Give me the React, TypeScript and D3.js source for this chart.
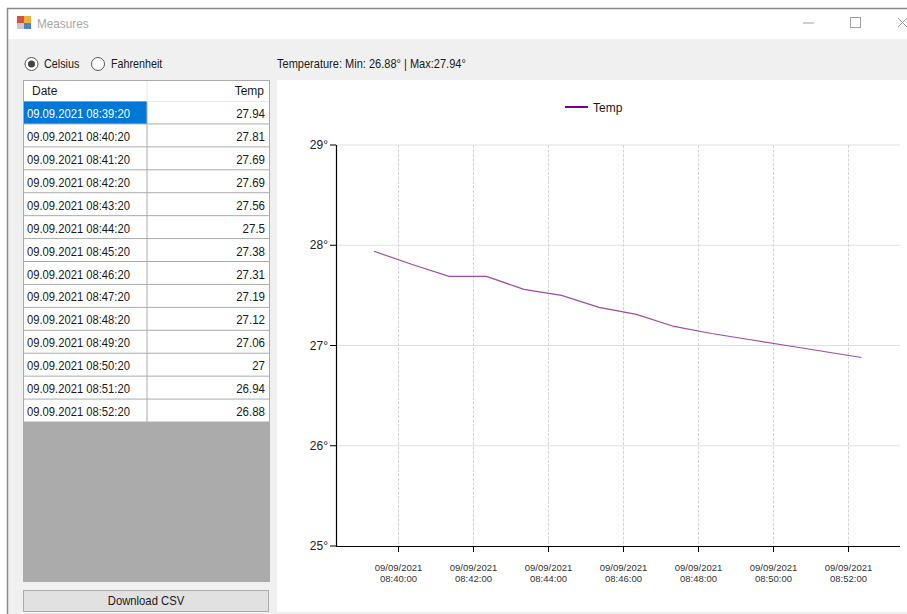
import React from "react";
import * as d3 from "d3";

const timestamps = ["09.09.2021 08:39:20","09.09.2021 08:40:20","09.09.2021 08:41:20","09.09.2021 08:42:20","09.09.2021 08:43:20","09.09.2021 08:44:20","09.09.2021 08:45:20","09.09.2021 08:46:20","09.09.2021 08:47:20","09.09.2021 08:48:20","09.09.2021 08:49:20","09.09.2021 08:50:20","09.09.2021 08:51:20","09.09.2021 08:52:20"];
const temps = [27.94,27.81,27.69,27.69,27.56,27.5,27.38,27.31,27.19,27.12,27.06,27,26.94,26.88];
const tempLabels = ["27.94","27.81","27.69","27.69","27.56","27.5","27.38","27.31","27.19","27.12","27.06","27","26.94","26.88"];
const yTicks = [25,26,27,28,29];
const xTickMinutes = ["08:40:00","08:42:00","08:44:00","08:46:00","08:48:00","08:50:00","08:52:00"];
const FONT = "'Liberation Sans', Arial, sans-serif";
const parseRow = d3.timeParse("%d.%m.%Y %H:%M:%S");
const tickDates = xTickMinutes.map(t => parseRow("09.09.2021 " + t) as Date);
const fmtDate = d3.timeFormat("%m/%d/%Y");
const fmtTime = d3.timeFormat("%H:%M:%S");

const x = d3.scaleTime().domain([tickDates[0], tickDates[6]]).range([399, 849]);
const y = d3.scaleLinear().domain([25, 29]).range([546, 145]);
const rowY = d3.scaleLinear().domain([0, 14]).range([101.5, 422.5]);

type TP = { x: number; y: number; sx?: number; size?: number; fill?: string; anchor?: string; children: React.ReactNode };
function T({ x, y, sx = 1, size = 12, fill = "#1a1a1a", anchor = "start", children }: TP) {
  return (
    <text transform={`translate(${x},${y}) scale(${sx},1)`} fontSize={size} fill={fill} textAnchor={anchor}>
      {children}
    </text>
  );
}

export default function App() {
  const pts = timestamps.map((t, i) => ({ d: parseRow(t) as Date, v: temps[i] }));
  const path = d3.line<{ d: Date; v: number }>().x(p => x(p.d)).y(p => y(p.v))(pts) as string;
  return (
    <svg width={907} height={614} style={{ position: "absolute", left: 0, top: 0, fontFamily: FONT }}>
      <rect x={0} y={0} width={907} height={614} fill="#ffffff" />
      <rect x={7} y={8} width={900} height={606} fill="#ffffff" />
      <rect x={8} y={39} width={899} height={575} fill="#f0f0f0" />
      <line x1={7} x2={907} y1={8.5} y2={8.5} stroke="#8a8a8a" strokeWidth={1.5} />
      <line x1={7.5} x2={7.5} y1={8} y2={614} stroke="#8a8a8a" strokeWidth={1.5} />
      <g>
        <rect x={17} y={16} width={7} height={7} fill="#d8533c" />
        <rect x={24} y={16} width={7} height={7} fill="#e8b53a" />
        <rect x={17} y={23} width={7} height={6} fill="#c9c9c9" />
        <rect x={24} y={23} width={7} height={6} fill="#4f7fd0" />
      </g>
      <T x={37} y={28} sx={0.94} size={12.5} fill="#a8a8a8">Measures</T>
      <line x1={803} x2={814} y1={23} y2={23} stroke="#a0a0a0" />
      <rect x={850.5} y={17.5} width={10} height={10} fill="none" stroke="#a0a0a0" />
      <path d="M898 18L907 27M907 18L898 27" stroke="#a0a0a0" fill="none" />

      <circle cx={31.5} cy={64} r={6.5} fill="#fff" stroke="#555" />
      <circle cx={31.5} cy={64} r={3.5} fill="#444" />
      <T x={44} y={68} sx={0.9}>Celsius</T>
      <circle cx={98} cy={64} r={6.5} fill="#fff" stroke="#555" />
      <T x={111} y={68} sx={0.895}>Fahrenheit</T>
      <T x={277} y={68} sx={0.92}>Temperature: Min: 26.88° | Max:27.94°</T>

      <rect x={23} y={80} width={247} height={502} fill="#ababab" />
      <rect x={24} y={81} width={245} height={20.5} fill="#ffffff" />
      <line x1={147} x2={147} y1={81} y2={101} stroke="#e8e8e8" />
      <T x={32} y={95}>Date</T>
      <T x={264} y={95} anchor="end">Temp</T>
      {timestamps.map((t, i) => {
        const top = rowY(i), bot = rowY(i + 1);
        return (
          <g key={t}>
            <rect x={24} y={top} width={122.5} height={bot - top - 1} fill={i === 0 ? "#0078d7" : "#ffffff"} />
            <rect x={147.5} y={top} width={121.5} height={bot - top - 1} fill="#ffffff" />
            <T x={27} y={top + 16.5} sx={0.936} fill={i === 0 ? "#ffffff" : "#1a1a1a"}>{t}</T>
            <T x={265} y={top + 16.5} sx={0.96} anchor="end">{tempLabels[i]}</T>
          </g>
        );
      })}
      <rect x={23.5} y={590.5} width={245} height={21} fill="#e1e1e1" stroke="#adadad" />
      <T x={146} y={605} sx={0.94} anchor="middle">Download CSV</T>

      <rect x={277} y={80} width={630} height={532} fill="#ffffff" />
      <line x1={565} x2={588} y1={107} y2={107} stroke="#800080" strokeWidth={2} />
      <T x={593} y={112}>Temp</T>

      {yTicks.filter(t => t > 25).map(t => (
        <line key={t} x1={336} x2={900} y1={y(t)} y2={y(t)} stroke="#e0e0e0" />
      ))}
      {tickDates.map(d => (
        <line key={+d} x1={x(d) - 0.5} x2={x(d) - 0.5} y1={145} y2={546} stroke="#d4d4d4" strokeDasharray="3 1.5" />
      ))}
      <path d={path} fill="none" stroke="#a04ca0" strokeWidth={1.2} />
      <line x1={336.5} x2={336.5} y1={145} y2={546} stroke="#000" strokeWidth={1.2} />
      <line x1={336} x2={900} y1={546.5} y2={546.5} stroke="#000" strokeWidth={1.2} />
      {yTicks.map(t => (
        <g key={t}>
          <line x1={330} x2={336} y1={y(t)} y2={y(t)} stroke="#000" />
          <T x={328} y={y(t) + 4} anchor="end" fill="#222">{t}°</T>
        </g>
      ))}
      {tickDates.map(d => (
        <g key={+d}>
          <line x1={x(d) - 0.5} x2={x(d) - 0.5} y1={546} y2={552} stroke="#000" />
          <T x={x(d) - 0.5} y={570.5} size={9.5} fill="#333" anchor="middle">{fmtDate(d)}</T>
          <T x={x(d) - 0.5} y={582} size={9.5} fill="#333" anchor="middle">{fmtTime(d)}</T>
        </g>
      ))}
    </svg>
  );
}
